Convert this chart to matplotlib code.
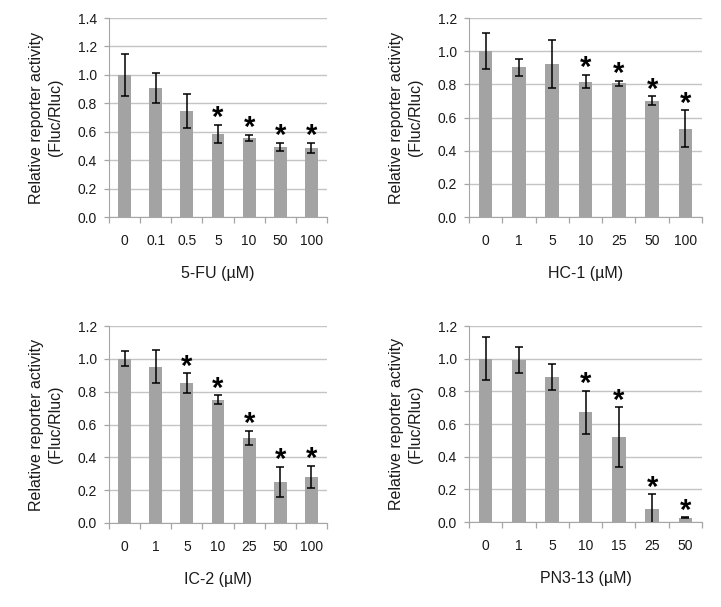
import matplotlib
matplotlib.use("Agg")
from matplotlib import pyplot as plt
import numpy as np

plt.rcParams['font.family'] = ['Liberation Sans', 'DejaVu Sans']

# data
fu_doses = ["0", "0.1", "0.5", "5", "10", "50", "100"]
fu_vals = [1.0, 0.91, 0.743, 0.585, 0.556, 0.493, 0.487]
fu_err = [0.15, 0.105, 0.12, 0.062, 0.023, 0.03, 0.035]
fu_sig = [False, False, False, True, True, True, True]

hc_doses = ["0", "1", "5", "10", "25", "50", "100"]
hc_vals = [1.0, 0.904, 0.922, 0.817, 0.807, 0.701, 0.533]
hc_err = [0.108, 0.051, 0.146, 0.04, 0.014, 0.028, 0.11]
hc_sig = [False, False, False, True, True, True, True]

ic_doses = ["0", "1", "5", "10", "25", "50", "100"]
ic_vals = [1.0, 0.951, 0.852, 0.75, 0.52, 0.251, 0.283]
ic_err = [0.045, 0.1, 0.059, 0.027, 0.043, 0.093, 0.067]
ic_sig = [False, False, True, True, True, True, True]

pn_doses = ["0", "1", "5", "10", "15", "25", "50"]
pn_vals = [1.0, 0.991, 0.889, 0.671, 0.519, 0.079, 0.027]
pn_err = [0.133, 0.081, 0.079, 0.131, 0.184, 0.09, 0.003]
pn_sig = [False, False, False, True, True, True, True]

panels = [
    (fu_doses, fu_vals, fu_err, fu_sig, "5-FU (µM)", 1.4, [0.1512, 0.6425, 0.3024, 0.3278]),
    (hc_doses, hc_vals, hc_err, hc_sig, "HC-1 (µM)", 1.2, [0.6505, 0.6425, 0.3232, 0.3278]),
    (ic_doses, ic_vals, ic_err, ic_sig, "IC-2 (µM)", 1.2, [0.1512, 0.1384, 0.3024, 0.3245]),
    (pn_doses, pn_vals, pn_err, pn_sig, "PN3-13 (µM)", 1.2, [0.6505, 0.1400, 0.3232, 0.3229]),
]

bar_col = "#a3a3a3"
line_col = "#a6a6a6"
grid_col = "#c4c4c4"

fig = plt.figure(figsize=(7.21, 6.07), dpi=100)

for doses, vals, err, sig, xlab, ymax, pos in panels:
    ax = fig.add_axes(pos)
    x = np.arange(len(doses))
    ax.bar(x, vals, width=0.41, color=bar_col, zorder=2)
    ax.errorbar(x, vals, yerr=err, fmt="none", ecolor="black",
                elinewidth=1.1, capsize=2.8, capthick=1.1, zorder=3)
    # significance stars
    for i in range(len(doses)):
        if sig[i]:
            ax.annotate("*", (x[i], vals[i] + err[i]), xytext=(0, -1),
                        textcoords="offset points", ha="center", va="baseline",
                        fontsize=21, fontweight="bold", color="black", zorder=4)

    ax.set_xlim(-0.5, len(doses) - 0.5)
    ax.set_ylim(0, ymax)
    ax.set_yticks(np.arange(0, ymax + 0.01, 0.2))
    ax.set_yticklabels(["%.1f" % v for v in np.arange(0, ymax + 0.01, 0.2)])
    ax.set_xticks(x)
    ax.set_xticklabels(doses)
    ax.set_xticks(np.arange(-0.5, len(doses), 1.0), minor=True)
    ax.tick_params(axis="x", which="major", length=0, pad=12, labelsize=10, colors="#1a1a1a")
    ax.tick_params(axis="x", which="minor", length=4, width=0.9, color=line_col, direction="out")
    ax.tick_params(axis="y", length=3.5, width=0.9, color=line_col, pad=5, labelsize=10, labelcolor="#1a1a1a")

    ax.yaxis.grid(True, color=grid_col, linewidth=1.0, zorder=0)
    ax.set_axisbelow(True)
    for s in ["top", "right"]:
        ax.spines[s].set_visible(False)
    ax.spines["left"].set_color(line_col)
    ax.spines["bottom"].set_color(line_col)

    ax.set_xlabel(xlab, fontsize=11.5, labelpad=13, color="#1a1a1a")
    ax.set_ylabel("Relative reporter activity\n(Fluc/Rluc)", fontsize=11.5,
                  linespacing=1.3, color="#1a1a1a")
    wpx = pos[2] * 721
    ax.yaxis.set_label_coords(-46.0 / wpx, 0.5)

plt.savefig("out.png", dpi=100)
plt.close()
